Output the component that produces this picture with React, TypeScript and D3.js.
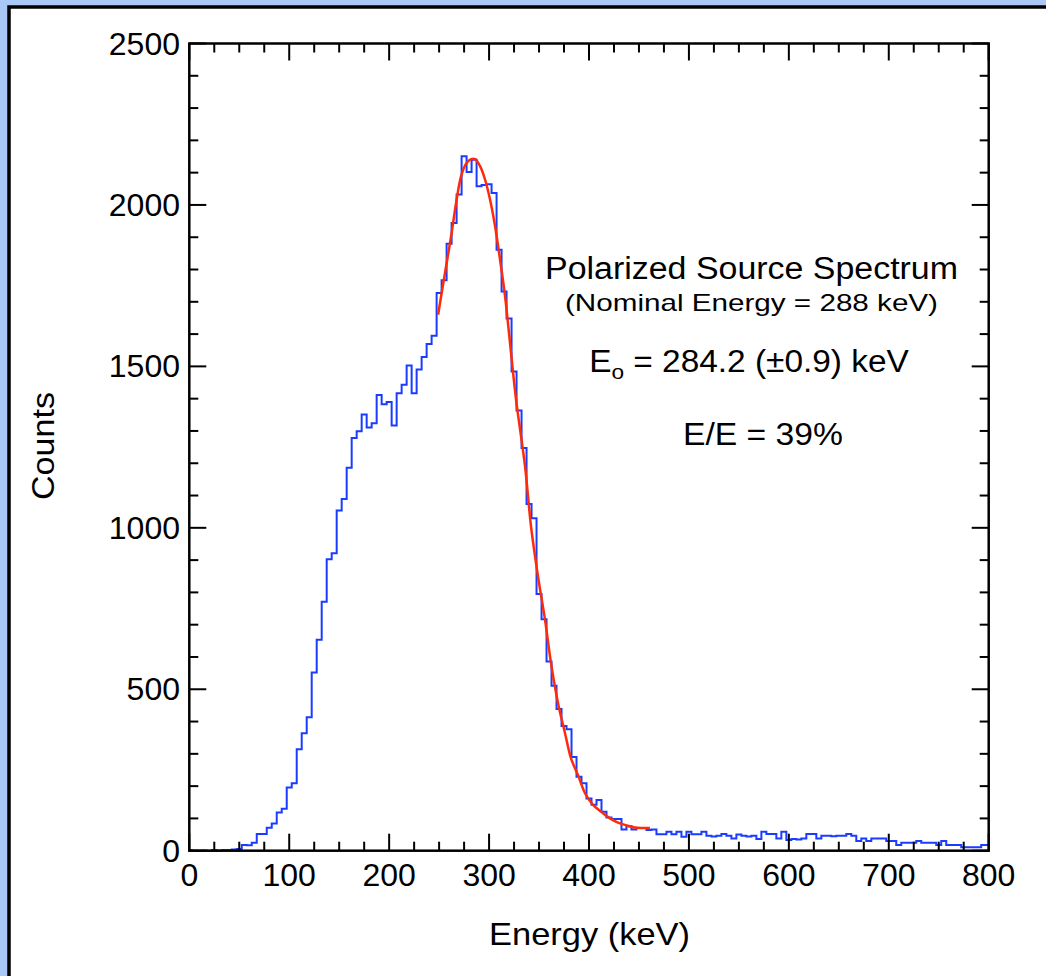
import React from "react";
import * as d3 from "d3";

// Histogram bin centres (keV), 5 keV wide bins
const binCenters: number[] = d3.range(0, 801, 5);
// Counts per bin
const counts: number[] = [
  2, 1, 0, 1, 0, 2, 1, 2, 2, 4, // 0-45
  5, 18, 17, 25, 52, 52, 71, 84, 118, 130, // 50-95
  196, 209, 314, 364, 413, 552, 653, 771, 903, 921, // 100-145
  1054, 1089, 1186, 1278, 1299, 1351, 1311, 1324, 1411, 1383, // 150-195
  1390, 1317, 1417, 1443, 1503, 1417, 1490, 1529, 1569, 1595, // 200-245
  1727, 1767, 1880, 1944, 2032, 2151, 2102, 2140, 2058, 2062, // 250-295
  2064, 2037, 1861, 1732, 1648, 1484, 1363, 1247, 1074, 1030, // 300-345
  795, 717, 586, 511, 439, 386, 376, 290, 229, 209, // 350-395
  162, 142, 157, 121, 103, 98, 98, 66, 76, 66, // 400-445
  70, 70, 64, 66, 51, 51, 59, 51, 59, 43, // 450-495
  59, 51, 51, 59, 46, 44, 46, 52, 46, 38, // 500-545
  50, 46, 44, 46, 36, 59, 52, 52, 38, 59, // 550-595
  33, 36, 35, 38, 52, 52, 38, 46, 46, 45, // 600-645
  46, 46, 52, 46, 30, 38, 30, 38, 38, 38, // 650-695
  30, 30, 18, 25, 25, 25, 30, 25, 25, 25, // 700-745
  18, 30, 18, 18, 18, 11, 11, 11, 11, 18, // 750-795
  18, // 800
];

// Fitted curve points (keV, counts)
const fitEnergy: number[] = [
  249, 252, 257, 262, 267, 272, 277, 282, 286, 291, 296, 301, 306, 311, 316,
  322, 327, 336, 342, 349, 356, 362, 369, 376, 382, 389, 396, 404, 412, 421,
  429, 437, 446, 461,
];
const fitCounts: number[] = [
  1660, 1717, 1810, 1903, 2006, 2089, 2128, 2142, 2142, 2120, 2078, 2016, 1934, 1830, 1717,
  1541, 1397, 1190, 1004, 849, 715, 581, 457, 364, 286, 234, 178, 142, 121, 100,
  87, 79, 72, 70,
];

const xMajor: number[] = [0, 100, 200, 300, 400, 500, 600, 700, 800];
const yMajor: number[] = [0, 500, 1000, 1500, 2000, 2500];

const FONT = "'Liberation Sans', Arial, Helvetica, sans-serif";

export default function App() {
  const W = 1046;
  const H = 976;
  const x = d3.scaleLinear().domain([0, 800]).range([189.3, 988.7]);
  const y = d3.scaleLinear().domain([0, 2500]).range([850.7, 43.5]);
  const [x0, x1] = x.range();
  const [y0, y1] = y.range();

  const xMinor = d3.range(0, 801, 25).filter((v) => v % 100 !== 0);
  const yMinor = d3.range(0, 2501, 100).filter((v) => v % 500 !== 0);

  const hist = d3
    .line<number>()
    .x((_, i) => x(binCenters[i]))
    .y((d) => y(d))
    .curve(d3.curveStep)(counts) as string;

  const fit = d3
    .line<number>()
    .x((_, i) => x(fitEnergy[i]))
    .y((d) => y(d))
    .curve(d3.curveCatmullRom.alpha(0.5))(fitCounts) as string;

  const majLen = 17;
  const minLen = 9;
  const tickStroke = 2;

  return (
    <svg
      width={W}
      height={H}
      style={{ position: "absolute", left: 0, top: 0, display: "block" }}
      fontFamily={FONT}
    >
      <rect x={0} y={0} width={W} height={H} fill="#a9c8f6" />
      <rect x={9} y={7} width={W + 20} height={H + 20} fill="#ffffff" stroke="#000" strokeWidth={3.5} />

      {/* data */}
      <path d={hist} fill="none" stroke="#1a3cff" strokeWidth={2} />
      <path d={fit} fill="none" stroke="#ff2a0a" strokeWidth={2.5} />

      {/* ticks */}
      <g stroke="#000" strokeWidth={tickStroke}>
        {xMajor.map((v) => (
          <g key={"xm" + v}>
            <line x1={x(v)} x2={x(v)} y1={y0} y2={y0 - majLen} />
            <line x1={x(v)} x2={x(v)} y1={y1} y2={y1 + majLen} />
          </g>
        ))}
        {xMinor.map((v) => (
          <g key={"xn" + v}>
            <line x1={x(v)} x2={x(v)} y1={y0} y2={y0 - minLen} />
            <line x1={x(v)} x2={x(v)} y1={y1} y2={y1 + minLen} />
          </g>
        ))}
        {yMajor.map((v) => (
          <g key={"ym" + v}>
            <line x1={x0} x2={x0 + majLen} y1={y(v)} y2={y(v)} />
            <line x1={x1} x2={x1 - majLen} y1={y(v)} y2={y(v)} />
          </g>
        ))}
        {yMinor.map((v) => (
          <g key={"yn" + v}>
            <line x1={x0} x2={x0 + minLen} y1={y(v)} y2={y(v)} />
            <line x1={x1} x2={x1 - minLen} y1={y(v)} y2={y(v)} />
          </g>
        ))}
      </g>
      <rect x={x0} y={y1} width={x1 - x0} height={y0 - y1} fill="none" stroke="#000" strokeWidth={2.5} />

      {/* tick labels */}
      <g fontSize={32} fill="#000">
        {xMajor.map((v) => (
          <text key={"xl" + v} x={x(v)} y={886} textAnchor="middle">
            {v}
          </text>
        ))}
        {yMajor.map((v) => (
          <text key={"yl" + v} x={180} y={y(v) + 11} textAnchor="end">
            {v}
          </text>
        ))}
      </g>

      {/* axis titles */}
      <text
        x={589.5 - 100.5}
        y={945}
        fontSize={32}
        textLength={201}
        lengthAdjust="spacingAndGlyphs"
      >
        Energy (keV)
      </text>
      <text
        transform={`translate(54, ${500}) rotate(-90)`}
        fontSize={32}
        textLength={108}
        lengthAdjust="spacingAndGlyphs"
      >
        Counts
      </text>

      {/* annotations */}
      <text x={545} y={279} fontSize={31} textLength={413} lengthAdjust="spacingAndGlyphs">
        Polarized Source Spectrum
      </text>
      <text x={565} y={311} fontSize={24} textLength={373} lengthAdjust="spacingAndGlyphs">
        (Nominal Energy = 288 keV)
      </text>
      <g transform="translate(749, 372) scale(1.078, 1)">
        <text x={0} y={0} fontSize={31} textAnchor="middle">
          E
          <tspan fontSize={21} dy={7}>o</tspan>
          <tspan dy={-7}> = 284.2 (±0.9) keV</tspan>
        </text>
      </g>
      <text x={683} y={445} fontSize={31} textLength={160} lengthAdjust="spacingAndGlyphs">
        E/E = 39%
      </text>
    </svg>
  );
}
